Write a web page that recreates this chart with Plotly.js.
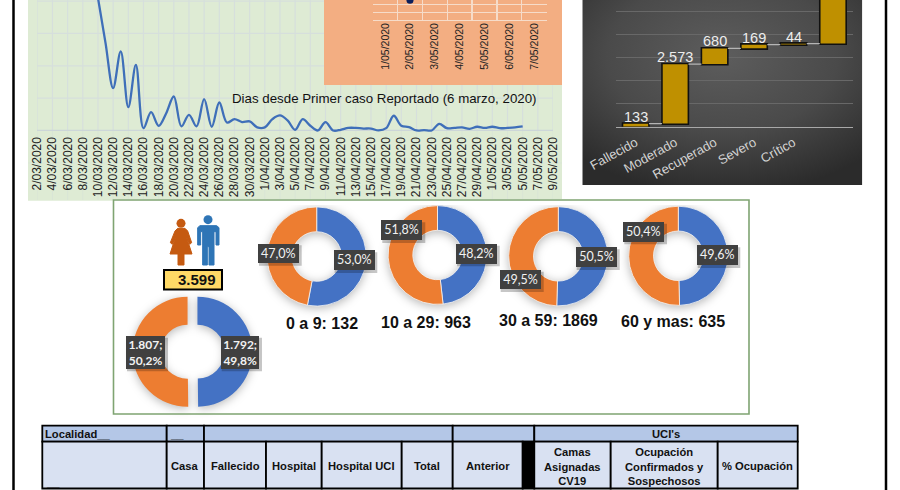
<!DOCTYPE html>
<html><head><meta charset="utf-8">
<script src="https://cdn.plot.ly/plotly-3.0.1.min.js"></script>
<style>
html,body{margin:0;padding:0;background:#fff;overflow:hidden}
#c{width:900px;height:490px}
.pielayer .trace{filter:drop-shadow(0 2px 5px rgba(0,0,0,.28))}
</style></head><body><div id="c"></div>
<script>
// ---------- data ----------
const lineDates = ['2020-03-10','2020-03-11','2020-03-12','2020-03-13','2020-03-14','2020-03-15','2020-03-16','2020-03-17','2020-03-18','2020-03-19','2020-03-20','2020-03-21','2020-03-22','2020-03-23','2020-03-24','2020-03-25','2020-03-26','2020-03-27','2020-03-28','2020-03-29','2020-03-30','2020-03-31','2020-04-01','2020-04-02','2020-04-03','2020-04-04','2020-04-05','2020-04-06','2020-04-07','2020-04-08','2020-04-09','2020-04-10','2020-04-11','2020-04-12','2020-04-13','2020-04-14','2020-04-15','2020-04-16','2020-04-17','2020-04-18','2020-04-19','2020-04-20','2020-04-21','2020-04-22','2020-04-23','2020-04-24','2020-04-25','2020-04-26','2020-04-27','2020-04-28','2020-04-29','2020-04-30','2020-05-01','2020-05-02','2020-05-03','2020-05-04','2020-05-05'];
const lineValues = [82,54,26.2,48.9,14.4,40.6,1.4,11.3,2.9,10.7,21,2.5,9.7,2.5,19.4,2.3,17.3,4.9,7,5.2,5.6,1.9,1.9,7,9.3,6.2,0.4,7,2.9,0,5.2,0,0.4,1.6,1.6,1.2,1.2,0,1.4,9.1,2.9,2.1,0,0.2,0,4.1,1.4,1.6,1.9,1,2.3,1.6,2.3,1.4,1.6,1.9,2.5];
const lineTitle = 'Dias desde Primer caso Reportado (6 marzo, 2020)';

const insetDays = ['1/05/2020','2/05/2020','3/05/2020','4/05/2020','5/05/2020','6/05/2020','7/05/2020'];
const insetValues = [null,2.6,null,null,null,null,null];

const wfCats = ['Fallecido','Moderado','Recuperado','Severo','Crítico','Casa'];
const wfValues = [133,2573,680,169,44,2400];
const wfText = ['133','2.573','680','169','44',''];

const donutNames = ['Total','0 a 9: 132','10 a 29: 963','30 a 59: 1869','60 y mas: 635'];
const blueShare = [49.8,53.0,48.2,50.5,49.6];
const orangeShare = [50.2,47.0,51.8,49.5,50.4];
const totalLabel = '3.599';
const blueLabels = ['1.792;<br>49,8%','53,0%','48,2%','50,5%','49,6%'];
const orangeLabels = ['1.807;<br>50,2%','47,0%','51,8%','49,5%','50,4%'];

const tableTop = ['Localidad__','__','','',"UCI's"];
const tableHead = ['','Casa','Fallecido','Hospital','Hospital UCI','Total','Anterior','','Camas<br>Asignadas<br>CV19','Ocupación<br>Confirmados y<br>Sospechosos','% Ocupación'];

// ---------- pixel helpers ----------
const W=900,H=490;
const px=x=>x/W, py=y=>1-y/H;
const shapes=[], annos=[];
const ARIAL='Liberation Sans, Arial, sans-serif';
function rect(x0,y0,x1,y1,fill,line,lw,layer){
  shapes.push({type:'rect',xref:'paper',yref:'paper',x0:px(x0),x1:px(x1),y0:py(y0),y1:py(y1),
    fillcolor:fill||'rgba(0,0,0,0)',line:{color:line||'rgba(0,0,0,0)',width:lw||0},layer:layer||'below'});
}
function vline(x,y0,y1,c,w,layer){
  shapes.push({type:'line',xref:'paper',yref:'paper',x0:px(x),x1:px(x),y0:py(y0),y1:py(y1),line:{color:c,width:w},layer:layer||'below'});
}
function text(x,y,t,size,opt){
  opt=opt||{};
  annos.push(Object.assign({xref:'paper',yref:'paper',x:px(x),y:py(y),text:t,showarrow:false,
    xanchor:'center',yanchor:'middle',align:'center',
    font:{family:opt.family||ARIAL,size:size,color:opt.color||'#111'}},opt.extra||{}));
}
const iz=(x,y)=>[110+x/3,195+y/3];
function poly(pts,fill){
  const d=pts.map((p,i)=>{const q=iz(p[0],p[1]);return (i?'L':'M')+px(q[0]).toFixed(5)+' '+py(q[1]).toFixed(5);}).join(' ')+' Z';
  shapes.push({type:'path',xref:'paper',yref:'paper',path:d,fillcolor:fill,line:{color:fill,width:1},layer:'below'});
}
function head(x,y,r,fill){
  const c=iz(x,y),rr=r/3;
  shapes.push({type:'circle',xref:'paper',yref:'paper',x0:px(c[0]-rr),x1:px(c[0]+rr),y0:py(c[1]+rr),y1:py(c[1]-rr),fillcolor:fill,line:{width:0},layer:'below'});
}

// ---------- frame and panels ----------
vline(13.5,0,490,'#000',2.5);
vline(886,0,490,'#000',2.5);
rect(28,0,562,200.7,'#deebd4');
const gridC='#d6dfdc';
for(let t=Date.UTC(2020,2,2);t<=Date.UTC(2020,4,9);t+=2*864e5){
  const d=new Date(t).toISOString().slice(0,10);
  shapes.push({type:'line',xref:'x',yref:'paper',x0:d,x1:d,y0:py(0),y1:py(130),line:{color:gridC,width:1.2},layer:'below'});
  shapes.push({type:'line',xref:'x',yref:'paper',x0:d,x1:d,y0:py(130),y1:py(200),line:{color:'#d9e5d6',width:1},layer:'below'});
}
[0,20,40,60,80].forEach(v=>shapes.push({type:'line',xref:'paper',yref:'y',x0:px(37),x1:px(553),y0:v,y1:v,line:{color:v?gridC:'#ccd6d8',width:1.3},layer:'below'}));
shapes.push({type:'line',xref:'paper',yref:'paper',x0:px(28),x1:px(562),y0:py(163),y1:py(163),line:{color:'#d9e5d6',width:1},layer:'below'});
rect(324,0,562,85,'#f3ae82');
rect(113.5,200,749,414,'#fff');
rect(113.5,199,749,205,'#fff',null,0,'above');
rect(113.5,200,749,414,null,'#7fa472',1.6,'above');

// people icons
const woman='#c55a11', man='#2e75b6';
head(213,85,13.5,woman);
poly([[203,100],[225,100],[233,108],[245,143],[239,148],[229,125],[246,177],[222,177],[222,210],[204,210],[204,177],[180,177],[197,125],[187,148],[181,143],[195,108]],woman);
head(294,74,13.5,man);
poly([[270,92],[320,92],[327,98],[327,150],[318,150],[318,110],[312,110],[312,210],[297,210],[297,155],[292,155],[292,210],[278,210],[278,110],[272,110],[272,150],[263,150],[263,98]],man);
rect(164,270,222,289.5,'#ffd966','#000',2);
text(196.5,279.5,'<b>'+totalLabel+'</b>',15,{color:'#111'});

// ---------- donuts ----------
const donutGeom=[
 {cx:192.5,cy:351.7,r:55,pull:.09,hole:.49},
 {cx:316.7,cy:256.5,r:49.6,pull:0,hole:.5},
 {cx:437.5,cy:255,r:49.4,pull:0,hole:.5},
 {cx:558.3,cy:256.3,r:49.6,pull:0,hole:.5},
 {cx:678.3,cy:255.8,r:49.6,pull:0,hole:.5}];
const pieTraces=donutGeom.map((g,i)=>{
  const R=g.r*(1+g.pull);
  return {type:'pie',sort:false,direction:'clockwise',rotation:0,hole:g.hole,
    values:[blueShare[i],orangeShare[i]],labels:['Hombres','Mujeres'],
    pull:g.pull?[g.pull,g.pull]:0,
    marker:{colors:['#4472c4','#ed7d31'],line:{color:'#f4f4f4',width:g.pull?0:.8}},
    textinfo:'none',hoverinfo:'label+percent',showlegend:false,
    domain:{x:[px(g.cx-R),px(g.cx+R)],y:[py(g.cy+R),py(g.cy-R)]}};
});
const boxBlue=[[220.7,335.7,259,368.3],[333.7,250.3,374.3,270],[456,243.7,496.7,263.3],[575.7,247.3,616.7,267],[696.7,245.3,737.3,265]];
const boxOrange=[[126,335.7,165,368.3],[258,243.3,298.7,262.7],[381.3,220.3,422.3,240],[499.7,269.7,540.7,289],[623.3,221.7,664,241.3]];
function labelBox(b,t,bold){
  rect(b[0]+1,b[1]+2,b[2]+3,b[3]+3,'rgba(0,0,0,.22)',null,0,'above');
  text((b[0]+b[2])/2,(b[1]+b[3])/2,bold?'<b>'+t+'</b>':t,bold?12:12.5,{color:'#f2f2f2',family:'Lato, Carlito, sans-serif',
    extra:{width:b[2]-b[0],height:b[3]-b[1],bgcolor:'#404040',borderpad:0,borderwidth:0,valign:'middle'}});
}
blueLabels.forEach((t,i)=>labelBox(boxBlue[i],t,i===0));
orangeLabels.forEach((t,i)=>labelBox(boxOrange[i],t,i===0));
const capPos=[null,[321.7,323.3],[425.5,322],[548,320],[672.5,321]];
donutNames.forEach((n,i)=>{ if(capPos[i]) text(capPos[i][0],capPos[i][1],'<b>'+n+'</b>',16,{color:'#111'}); });

// ---------- table ----------
const rowA=[425.7,441.7,488.5];
const edgesTop=[42.3,166.7,204,452.7,534.3,797.7];
const edgesHead=[42.3,166.7,204,266,321.7,401.7,452.7,522.7,534.3,610.7,717.7,797.7];
const TF=11.2;
edgesTop.slice(0,-1).forEach((x,i)=>{
  rect(x,rowA[0],edgesTop[i+1],rowA[1],'#b4c7e7','#000',1.8);
  const t=tableTop[i];
  if(t){ if(i<2) text(x+1,433.5,'<b>'+t+'</b>',TF,{extra:{xanchor:'left'}});
         else text((x+edgesTop[i+1])/2,433.5,'<b>'+t+'</b>',TF); }
});
edgesHead.slice(0,-1).forEach((x,i)=>{
  const isGap=i===7;
  rect(x,rowA[1],edgesHead[i+1],rowA[2],isGap?'#000':'#d9e1f2','#000',1.8);
  const t=tableHead[i];
  if(t) text((x+edgesHead[i+1])/2,466,'<b>'+t+'</b>',TF);
});
text(43.5,482,'<b>__</b>',TF,{extra:{xanchor:'left'}});
text(384.7,98.5,lineTitle,13.3,{color:'#111'});

// waterfall value labels sit on the running total of the series
let running=0;
wfValues.forEach((v,i)=>{
  running+=v;
  if(wfText[i]) annos.push({xref:'x3',yref:'y3',x:wfCats[i],y:running,yshift:7,text:wfText[i],showarrow:false,
    xanchor:'center',yanchor:'middle',font:{family:ARIAL,size:14.5,color:'#ededed'}});
});

// ---------- traces ----------
const lineTrace={type:'scatter',mode:'lines',x:lineDates,y:lineValues,xaxis:'x',yaxis:'y',
  line:{color:'#3f6fb9',width:2.3,shape:'spline',smoothing:1},hoverinfo:'x+y',showlegend:false};
const insetTrace={type:'scatter',mode:'lines+markers',x:insetDays,y:insetValues,xaxis:'x2',yaxis:'y2',
  line:{color:'#0b1f5c',width:2},marker:{color:'#0b1f5c',size:7},showlegend:false};
const wfTrace={type:'waterfall',x:wfCats,y:wfValues,xaxis:'x3',yaxis:'y3',
  measure:wfCats.map(()=>'relative'),
  increasing:{marker:{color:'#bf9000',line:{color:'#111',width:1.6}}},
  connector:{line:{color:'#b5b5b5',width:1.3},mode:'between'},width:.67,showlegend:false};

const gradient="data:image/svg+xml;utf8,"+encodeURIComponent(
 '<svg xmlns="http://www.w3.org/2000/svg" width="280" height="185"><defs><radialGradient id="g" cx="50%" cy="30%" r="75%"><stop offset="0" stop-color="#5d5d5d"/><stop offset=".55" stop-color="#4a4a4a"/><stop offset="1" stop-color="#2b2b2b"/></radialGradient></defs><rect width="280" height="185" fill="url(#g)"/></svg>');

const layout={width:W,height:H,margin:{l:0,r:0,t:0,b:0},paper_bgcolor:'#fff',plot_bgcolor:'rgba(0,0,0,0)',
  showlegend:false,hovermode:'closest',
  images:[{source:gradient,xref:'paper',yref:'paper',x:px(582.3),y:py(0),sizex:280/W,sizey:185/H,sizing:'stretch',xanchor:'left',yanchor:'top',layer:'below'}],
  xaxis:{domain:[px(37.3),px(553)],type:'date',range:['2020-03-02','2020-05-09'],tick0:'2020-03-02',dtick:2*864e5,
    tickformat:'%-d/%m/%Y',tickangle:-90,showgrid:false,zeroline:false,showline:false,ticks:'',
    tickfont:{family:ARIAL,size:12,color:'#222'},anchor:'y'},
  yaxis:{domain:[py(133.7),1],range:[-2,80.7],showgrid:false,zeroline:false,showticklabels:false,showline:false,anchor:'x'},
  xaxis2:{domain:[px(372.7),px(546.7)],type:'category',categoryorder:'array',categoryarray:insetDays,range:[-.5,6.5],
    tickson:'boundaries',tickangle:-90,showgrid:true,gridcolor:'#f6dcc9',gridwidth:1.3,ticks:'outside',ticklen:10,tickcolor:'rgba(0,0,0,0)',
    tickfont:{family:ARIAL,size:10.5,color:'#222'},showline:false,zeroline:false,anchor:'y2'},
  yaxis2:{domain:[py(20),1],range:[0,2.63],dtick:1,showgrid:true,gridcolor:'#f6dcc9',gridwidth:1.3,showticklabels:false,zeroline:true,zerolinecolor:'#f6dcc9',showline:false,anchor:'x2'},
  xaxis3:{domain:[px(616),px(852.7)],type:'category',categoryorder:'array',categoryarray:wfCats,range:[-.5,5.5],
    tickmode:'array',tickvals:wfCats.slice(0,5),ticktext:wfCats.slice(0,5),tickangle:-29,ticks:'outside',ticklen:2,tickcolor:'rgba(0,0,0,0)',
    tickfont:{family:ARIAL,size:13,color:'#d4d4d4'},showgrid:false,zeroline:false,showline:true,linecolor:'#a8a8a8',linewidth:1.5,anchor:'y3'},
  yaxis3:{domain:[py(126.7),1],range:[0,5483],dtick:1000,showgrid:true,gridcolor:'#686868',gridwidth:1,showticklabels:false,zeroline:false,showline:false,anchor:'x3'},
  shapes:shapes,annotations:annos};

Plotly.newPlot('c',[lineTrace,insetTrace,wfTrace].concat(pieTraces),layout,{displayModeBar:false,staticPlot:true});
</script></body></html>
